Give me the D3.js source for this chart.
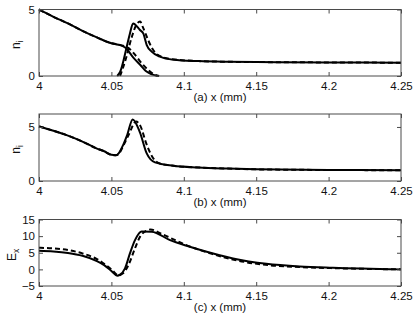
<!DOCTYPE html>
<html>
<head>
<meta charset="utf-8">
<script src="https://cdn.jsdelivr.net/npm/d3@7"></script>
<style>
  body { margin: 0; background: #fff; }
  svg { display: block; font-family: "Liberation Sans", Arial, Helvetica, sans-serif; }
</style>
</head>
<body>
<div id="chart"></div>
<script>
// x axis ticks (shared by the three panels)
const xTicks = [4, 4.05, 4.1, 4.15, 4.2, 4.25];
const xTickLabels = ['4', '4.05', '4.1', '4.15', '4.2', '4.25'];

// panel (a): two ion species, solid = model, dashed = reference
const aSolid1X = [4.000, 4.005, 4.010, 4.020, 4.030, 4.040, 4.050, 4.055, 4.060, 4.065, 4.070, 4.074, 4.078, 4.082];
const aSolid1Y = [5.00, 4.72, 4.45, 3.95, 3.40, 2.90, 2.46, 2.35, 2.10, 1.40, 0.83, 0.35, 0.12, 0.00];
const aSolid2X = [4.054, 4.056, 4.0606, 4.0628, 4.065, 4.0697, 4.072, 4.0744, 4.0778, 4.0836, 4.0928, 4.11, 4.13, 4.15, 4.20, 4.25];
const aSolid2Y = [0.00, 0.30, 2.20, 3.20, 3.95, 3.46, 3.20, 2.33, 1.83, 1.45, 1.22, 1.12, 1.07, 1.05, 1.02, 1.00];
const aDash1X = [4.000, 4.010, 4.020, 4.030, 4.040, 4.050, 4.056, 4.060, 4.063, 4.067, 4.071, 4.075, 4.079, 4.083];
const aDash1Y = [5.00, 4.45, 3.95, 3.40, 2.90, 2.46, 2.34, 2.20, 2.00, 1.50, 0.95, 0.50, 0.15, 0.00];
const aDash2X = [4.056, 4.060, 4.064, 4.067, 4.0698, 4.072, 4.075, 4.078, 4.082, 4.090, 4.11, 4.13, 4.15, 4.20, 4.25];
const aDash2Y = [0.00, 1.30, 2.90, 3.80, 4.10, 3.60, 2.80, 2.10, 1.60, 1.30, 1.12, 1.07, 1.05, 1.02, 1.00];

// panel (b): total ion density
const bSolidX = [4.000, 4.010, 4.020, 4.030, 4.040, 4.045, 4.050, 4.053, 4.055, 4.058, 4.061, 4.0647, 4.0697, 4.0744, 4.0801, 4.0928, 4.11, 4.13, 4.15, 4.20, 4.25];
const bSolidY = [5.05, 4.65, 4.20, 3.65, 3.00, 2.75, 2.42, 2.38, 2.55, 3.30, 4.30, 5.70, 4.50, 2.55, 1.72, 1.41, 1.25, 1.15, 1.08, 1.02, 1.00];
const bDashX = [4.000, 4.010, 4.020, 4.030, 4.040, 4.045, 4.050, 4.053, 4.055, 4.058, 4.062, 4.067, 4.070, 4.074, 4.078, 4.082, 4.090, 4.11, 4.13, 4.15, 4.20, 4.25];
const bDashY = [5.05, 4.65, 4.20, 3.65, 3.00, 2.75, 2.42, 2.38, 2.50, 3.20, 4.30, 5.50, 5.10, 3.50, 2.30, 1.70, 1.45, 1.25, 1.15, 1.08, 1.02, 1.00];

// panel (c): electric field
const cSolidX = [4.000, 4.010, 4.020, 4.030, 4.040, 4.045, 4.050, 4.054, 4.056, 4.0594, 4.0628, 4.0663, 4.0709, 4.0778, 4.0905, 4.102, 4.111, 4.134, 4.157, 4.180, 4.203, 4.25];
const cSolidY = [5.60, 5.40, 4.95, 4.10, 2.50, 1.30, -0.50, -1.90, -1.60, 0.30, 4.80, 8.80, 11.40, 11.30, 8.80, 7.10, 5.90, 3.30, 1.70, 0.90, 0.50, 0.00];
const cDashX = [4.000, 4.010, 4.020, 4.030, 4.040, 4.050, 4.055, 4.058, 4.062, 4.066, 4.070, 4.074, 4.077, 4.085, 4.100, 4.120, 4.140, 4.160, 4.180, 4.200, 4.25];
const cDashY = [6.50, 6.30, 5.80, 4.80, 3.10, 0.00, -1.80, -1.20, 1.50, 6.00, 10.00, 11.60, 12.00, 10.60, 7.60, 4.60, 2.40, 1.20, 0.70, 0.40, 0.00];

const zip = (xs, ys) => xs.map((x, i) => ({ x, y: ys[i] }));

const width = 415;
const height = 316;
const left = 39;
const right = 401;

const panels = [
  {
    top: 9.5, bottom: 76, yDomain: [0, 5], yTicks: [0, 5], yTickLabels: ['0', '5'],
    yMain: 'n', ySub: 'i', ySubDy: '0.3em', yLabelX: 20, xLabel: '(a) x (mm)',
    series: [
      { data: zip(aDash1X, aDash1Y), dashed: true },
      { data: zip(aDash2X, aDash2Y), dashed: true },
      { data: zip(aSolid1X, aSolid1Y), dashed: false },
      { data: zip(aSolid2X, aSolid2Y), dashed: false },
    ],
  },
  {
    top: 114, bottom: 181, yDomain: [0, 6.2], yTicks: [0, 5], yTickLabels: ['0', '5'],
    yMain: 'n', ySub: 'i', ySubDy: '0.3em', yLabelX: 20, xLabel: '(b) x (mm)',
    series: [
      { data: zip(bDashX, bDashY), dashed: true },
      { data: zip(bSolidX, bSolidY), dashed: false },
    ],
  },
  {
    top: 219.5, bottom: 286, yDomain: [-5, 15], yTicks: [-5, 0, 5, 10, 15], yTickLabels: ['\u22125', '0', '5', '10', '15'],
    yMain: 'E', ySub: 'x', ySubDy: '0.3em', yLabelX: 16, xLabel: '(c) x (mm)',
    series: [
      { data: zip(cDashX, cDashY), dashed: true },
      { data: zip(cSolidX, cSolidY), dashed: false },
    ],
  },
];

const svg = d3.select('#chart')
  .append('svg')
    .attr('width', width)
    .attr('height', height)
    .attr('viewBox', `0 0 ${width} ${height}`);

svg.append('rect')
  .attr('width', width)
  .attr('height', height)
  .attr('fill', '#fff');

const x = d3.scaleLinear()
  .domain([4, 4.25])
  .range([left, right]);

const axisColor = '#4a4a4a';
const fontSize = '11.5px';

panels.forEach(p => {
  const y = d3.scaleLinear()
    .domain(p.yDomain)
    .range([p.bottom, p.top]);

  const line = d3.line()
    .x(d => x(d.x))
    .y(d => y(d.y))
    .curve(d3.curveMonotoneX);

  // curves
  p.series.forEach(s => {
    svg.append('path')
      .datum(s.data)
      .attr('d', line)
      .attr('fill', 'none')
      .attr('stroke', '#000')
      .attr('stroke-width', 2)
      .attr('stroke-linejoin', 'round')
      .attr('stroke-dasharray', s.dashed ? '5,3' : null);
  });

  // box
  svg.append('rect')
    .attr('x', left)
    .attr('y', p.top)
    .attr('width', right - left)
    .attr('height', p.bottom - p.top)
    .attr('fill', 'none')
    .attr('stroke', axisColor)
    .attr('stroke-width', 1);

  const fmtX = (d, i) => xTickLabels[i];
  const fmtY = (d, i) => p.yTickLabels[i];

  const bottomAxis = svg.append('g')
    .attr('transform', `translate(0,${p.bottom})`)
    .call(d3.axisBottom(x).tickValues(xTicks).tickFormat(fmtX).tickSizeInner(-4).tickSizeOuter(0).tickPadding(6));

  const topAxis = svg.append('g')
    .attr('transform', `translate(0,${p.top})`)
    .call(d3.axisTop(x).tickValues(xTicks).tickFormat('').tickSizeInner(-4).tickSizeOuter(0));

  const leftAxis = svg.append('g')
    .attr('transform', `translate(${left},0)`)
    .call(d3.axisLeft(y).tickValues(p.yTicks).tickFormat(fmtY).tickSizeInner(-4).tickSizeOuter(0).tickPadding(4));

  const rightAxis = svg.append('g')
    .attr('transform', `translate(${right},0)`)
    .call(d3.axisRight(y).tickValues(p.yTicks).tickFormat('').tickSizeInner(-4).tickSizeOuter(0));

  [bottomAxis, topAxis, leftAxis, rightAxis].forEach(g => {
    g.select('.domain').remove();
    g.selectAll('line').attr('stroke', axisColor);
    g.selectAll('text')
      .attr('fill', '#111')
      .attr('font-size', fontSize)
      .attr('font-family', null);
  });

  // x label
  svg.append('text')
    .attr('x', (left + right) / 2)
    .attr('y', p.bottom + 25)
    .attr('text-anchor', 'middle')
    .attr('font-size', fontSize)
    .attr('fill', '#111')
    .text(p.xLabel);

  // y label with subscript
  const yl = svg.append('text')
    .attr('transform', `translate(${p.yLabelX},${(p.top + p.bottom) / 2 + 2}) rotate(-90)`)
    .attr('text-anchor', 'middle')
    .attr('font-size', '12px')
    .attr('fill', '#111');
  yl.append('tspan').text(p.yMain);
  yl.append('tspan')
    .attr('font-size', '8.5px')
    .attr('dy', p.ySubDy)
    .text(p.ySub);
});
</script>
</body>
</html>
